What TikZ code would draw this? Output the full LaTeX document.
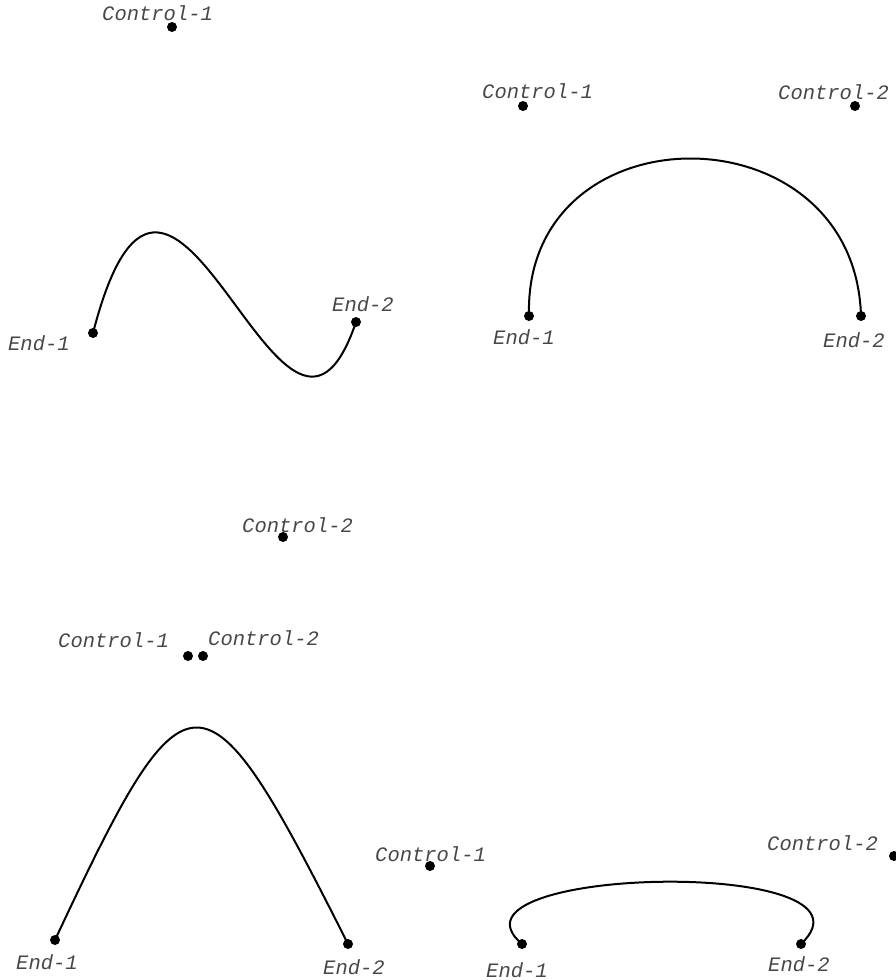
\documentclass[tikz,border=0pt]{standalone}
\usepackage{fontspec}
\setmonofont{Liberation Mono}
\begin{document}
\begin{tikzpicture}[x=1pt,y=-1pt,
  dot/.style={circle,fill=black,inner sep=0pt,minimum size=10pt},
  lbl/.style={anchor=west,inner sep=0pt,text=black!72,font=\fontsize{20.5}{24}\selectfont\ttfamily\itshape},
  curve/.style={line width=2pt}]
\useasboundingbox (0,0) rectangle (895,980);
% panel 1
\node[dot] (a1) at (93,333) {};
\node[dot] (b1) at (172,27) {};
\node[dot] (c1) at (283,537) {};
\node[dot] (d1) at (356,322) {};
\node[lbl] (la1) at (8,343) {End-1};
\node[lbl] (lb1) at (102,13) {Control-1};
\node[lbl] (lc1) at (242,525) {Control-2};
\node[lbl] (ld1) at (332,304) {End-2};
\draw[curve] (a1.center) .. controls (b1.center) and (c1.center) .. (d1.center);
% panel 2
\node[dot] (a2) at (529,316) {};
\node[dot] (b2) at (523,106) {};
\node[dot] (c2) at (855,106) {};
\node[dot] (d2) at (861,316) {};
\node[lbl] (la2) at (493,337) {End-1};
\node[lbl] (lb2) at (482,91) {Control-1};
\node[lbl] (lc2) at (778,92) {Control-2};
\node[lbl] (ld2) at (823,340) {End-2};
\draw[curve] (a2.center) .. controls (b2.center) and (c2.center) .. (d2.center);
% panel 3
\node[dot] (a3) at (55,940) {};
\node[dot] (b3) at (188,656) {};
\node[dot] (c3) at (203,656) {};
\node[dot] (d3) at (348,944) {};
\node[lbl] (la3) at (16,962) {End-1};
\node[lbl] (lb3) at (58,640) {Control-1};
\node[lbl] (lc3) at (208,638) {Control-2};
\node[lbl] (ld3) at (323,967) {End-2};
\draw[curve] (a3.center) .. controls (b3.center) and (c3.center) .. (d3.center);
% panel 4
\node[dot] (a4) at (522,944) {};
\node[dot] (b4) at (430,866) {};
\node[dot] (c4) at (894,856) {};
\node[dot] (d4) at (801,944) {};
\node[lbl] (la4) at (486,970) {End-1};
\node[lbl] (lb4) at (375,854) {Control-1};
\node[lbl] (lc4) at (767,843) {Control-2};
\node[lbl] (ld4) at (768,964) {End-2};
\draw[curve] (a4.center) .. controls (b4.center) and (c4.center) .. (d4.center);
\end{tikzpicture}
\end{document}
